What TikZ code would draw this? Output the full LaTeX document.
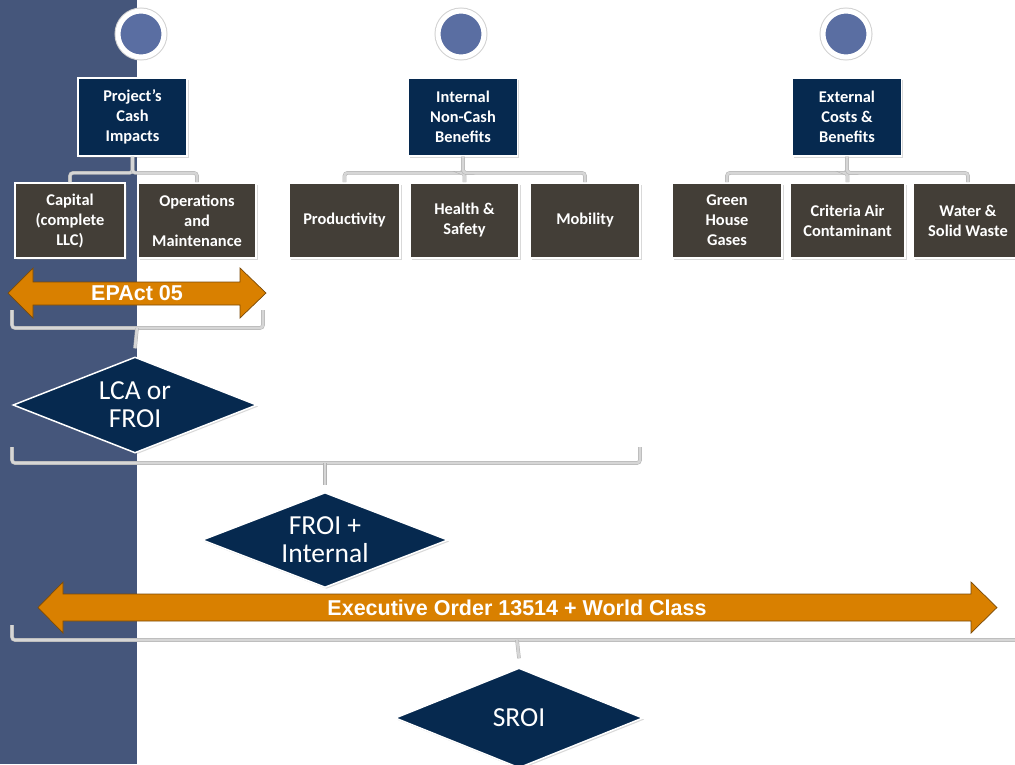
\documentclass[tikz,border=0pt]{standalone}
\usepackage{fontspec}
\setmainfont{Carlito}
\newfontfamily\arialfont{Liberation Sans}
\usetikzlibrary{shapes.geometric,shadows}
\definecolor{navyc}{HTML}{06294F}
\definecolor{brownc}{HTML}{433E37}
\definecolor{stripc}{HTML}{45567B}
\definecolor{dotc}{HTML}{5A6EA2}
\definecolor{orangec}{HTML}{D98000}
\definecolor{orangeline}{HTML}{7A4A08}
\definecolor{connc}{HTML}{D6D6D6}
\tikzset{
  shade1/.style={drop shadow={shadow xshift=1.5pt,shadow yshift=-1.5pt,opacity=0.3}},
  topbox/.style={rectangle,fill=navyc,draw=white,line width=1.8pt,minimum width=109pt,minimum height=78pt,inner sep=0pt,align=center,text=white,font=\bfseries\fontsize{16.4}{20}\selectfont,shade1},
  subbox/.style={rectangle,fill=brownc,draw=white,line width=1.8pt,minimum height=75pt,inner sep=0pt,align=center,text=white,font=\bfseries\fontsize{16.4}{20}\selectfont,shade1},
  dec/.style={diamond,aspect=2.6,fill=navyc,draw=white,line width=1.5pt,inner sep=0pt,align=center,text=white,font=\fontsize{27.5}{28}\selectfont,shade1},
  dot/.style={circle,fill=dotc,draw=white,line width=5pt,minimum size=46pt,inner sep=0pt,preaction={draw=black!18,line width=7pt},shade1},
  conn/.style={draw=gray!60,double=connc,double distance=2.6pt,line width=0.5pt,rounded corners=3pt},
  banner/.style={fill=orangec,draw=orangeline,line width=0.7pt},
  bannertext/.style={text=white,font=\arialfont\bfseries\fontsize{21.5}{24}\selectfont,inner sep=0pt}
}
\begin{document}
\begin{tikzpicture}[x=1pt,y=-1pt]
\useasboundingbox (0,0) rectangle (1015,764);
\fill[stripc] (0,0) rectangle (137,764);
% circles
\node[dot] (d1) at (141,34) {};
\node[dot] (d2) at (461,34) {};
\node[dot] (d3) at (846,34) {};
% top boxes
\node[topbox] (p1) at (132.5,117) {Project’s\\Cash\\Impacts};
\node[topbox] (p2) at (463,117) {Internal\\Non-Cash\\Benefits};
\node[topbox] (p3) at (847,117) {External\\Costs \&\\Benefits};
% sub boxes
\node[subbox,minimum width=110pt] (c1) at (70,220.5) {Capital\\(complete\\LLC)};
\node[subbox,minimum width=118pt] (c2) at (197,220.5) {Operations\\and\\Maintenance};
\node[subbox,minimum width=111pt] (c3) at (344.5,220.5) {Productivity};
\node[subbox,minimum width=109pt] (c4) at (464.5,220.5) {Health \&\\Safety};
\node[subbox,minimum width=110pt] (c5) at (585,220.5) {Mobility};
\node[subbox,minimum width=110pt] (c6) at (727,220.5) {Green\\House\\Gases};
\node[subbox,minimum width=115pt] (c7) at (847.5,220.5) {Criteria Air\\Contaminant};
\node[subbox,minimum width=110pt] (c8) at (968,220.5) {Water \&\\Solid Waste};
% tree connectors
\foreach \c in {c1,c2} \draw[conn] (p1.south) -- ++(0,16) -| (\c.north);
\foreach \c in {c3,c4,c5} \draw[conn] (p2.south) -- ++(0,16) -| (\c.north);
\foreach \c in {c6,c7,c8} \draw[conn] (p3.south) -- ++(0,16) -| (\c.north);
% EPAct banner
\fill[banner] (8,293) -- (33,268) -- (33,282) -- (240,282) -- (240,268) -- (266,293)
  -- (240,318) -- (240,305) -- (33,305) -- (33,318) -- cycle;
\node[bannertext] (ep) at (137,293.5) {EPAct 05};
% brace 1
\coordinate (b1) at (137,328);
\draw[conn] (12,310) -- (12,328) -- (263,328) -- (263,310);
% LCA diamond
\node[dec,minimum width=244pt,minimum height=96pt] (lca) at (135,405) {LCA or\\FROI};
\draw[conn] (b1) -- ([yshift=8pt]lca.north);
% brace 2
\coordinate (b2) at (325,463);
\draw[conn] (12,447) -- (12,463) -- (640,463) -- (640,447);
\node[dec,minimum width=246pt,minimum height=95pt] (fi) at (325,540) {FROI +\\Internal};
\draw[conn] (b2) -- ([yshift=7pt]fi.north);
% Exec banner
\fill[banner] (38,607.5) -- (63,582) -- (63,594) -- (971,594) -- (971,582) -- (997,607.5)
  -- (971,633) -- (971,621) -- (63,621) -- (63,633) -- cycle;
\node[bannertext] (eo) at (517,608) {Executive Order 13514 + World Class};
% brace 3
\coordinate (b3) at (517,640);
\draw[conn] (12,625) -- (12,640) -- (1025,640);
\node[dec,minimum width=248pt,minimum height=100pt] (sr) at (519,718) {SROI};
\draw[conn] (b3) -- ([yshift=9pt]sr.north);
\end{tikzpicture}
\end{document}
